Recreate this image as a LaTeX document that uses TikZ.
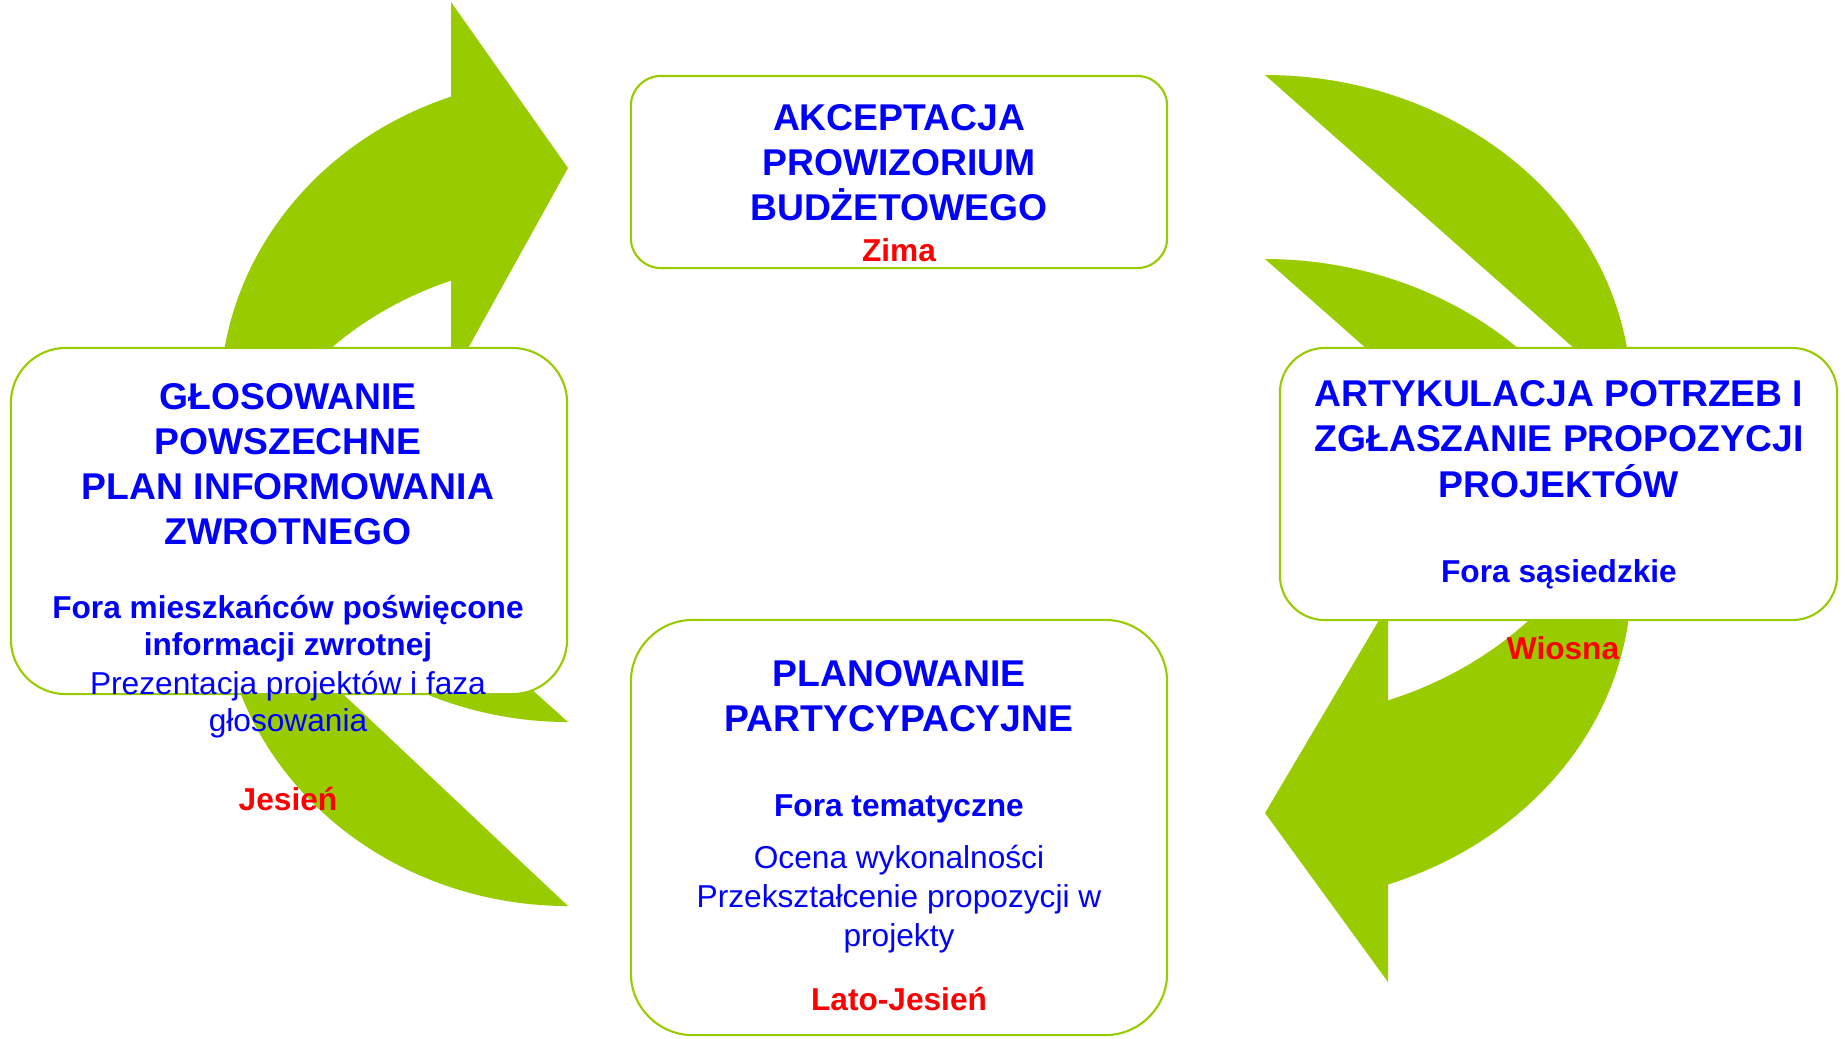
\documentclass[tikz,border=0pt]{standalone}
\usepackage{fontspec}
\setmainfont{Liberation Sans}
\usepackage{xcolor}
\definecolor{leaf}{HTML}{99CC00}
\definecolor{ink}{HTML}{0000FF}
\definecolor{season}{HTML}{FF0000}
\usepackage{tikz}
\usetikzlibrary{shapes, positioning}

\begin{document}
\begin{tikzpicture}[x=0.01cm, y=0.01cm]
        % Define block styles
        \tikzstyle{stage} = [rectangle, draw=leaf, line width=0.6pt, fill=white, inner sep=0pt]
        \tikzstyle{stageTitle} = [text=ink, font=\bfseries\fontsize{10.6}{12.8}\selectfont, anchor=base, inner sep=0pt]
        \tikzstyle{stageForum} = [text=ink, font=\bfseries\fontsize{9}{10.7}\selectfont, anchor=base, inner sep=0pt]
        \tikzstyle{stageText} = [text=ink, font=\fontsize{9}{10.7}\selectfont, anchor=base, inner sep=0pt]
        \tikzstyle{stageSeason} = [text=season, font=\bfseries\fontsize{9}{10.7}\selectfont, anchor=base, inner sep=0pt]
        \tikzstyle{loopArrow} = [fill=leaf]

        \useasboundingbox (0,0) rectangle (1845,-1038);

        % Arrows (right one, head pointing left)
        \fill[loopArrow] (1265,-75) arc[start angle=90, end angle=3, x radius=3.66cm, y radius=3.22cm] -- (1610,-380) -- cycle;
        \fill[loopArrow] (1265,-259) arc[start angle=90, end angle=38.6, x radius=3.66cm, y radius=3.22cm] -- (1402,-380) -- cycle;
        \fill[loopArrow] (1631,-590) arc[start angle=-1.6, end angle=-70.36, x radius=3.66cm, y radius=3.22cm]
            -- (1388,-982) -- (1265,-813) -- (1388,-605) -- (1388,-700.3)
            arc[start angle=-70.36, end angle=-36.83, x radius=3.66cm, y radius=3.22cm] -- cycle;

        % Arrows (left one, head pointing right)
        \fill[loopArrow] (451,-2) -- (568,-168) -- (451,-379) -- (451,-280.7)
            arc[start angle=109.65, end angle=140.7, x radius=3.48cm, y radius=3.22cm] -- (220.7,-380)
            arc[start angle=176.44, end angle=109.65, x radius=3.48cm, y radius=3.22cm] -- cycle;
        \fill[loopArrow] (568,-906) arc[start angle=270, end angle=195.49, x radius=3.48cm, y radius=3.22cm] -- (317.5,-670) -- cycle;
        \fill[loopArrow] (568,-722) arc[start angle=270, end angle=236.98, x radius=3.48cm, y radius=3.22cm] -- (510,-670) -- cycle;

        % Nodes
        \node [stage, minimum width=5.36cm, minimum height=1.92cm, rounded corners=0.3cm] (akcBox) at (899,-172) {};
        \node [stage, minimum width=5.56cm, minimum height=3.46cm, rounded corners=0.55cm] (glosBox) at (289,-521) {};
        \node [stage, minimum width=5.57cm, minimum height=2.72cm, rounded corners=0.45cm] (artBox) at (1558.5,-484) {};
        \node [stage, minimum width=5.36cm, minimum height=4.15cm, rounded corners=0.62cm] (planBox) at (899,-827.5) {};

        % Texts
        \node [stageTitle] (akcTitle) at (899,-130.5) {
            \begin{tabular}[t]{@{}c@{}}
                AKCEPTACJA \\
                PROWIZORIUM \\
                BUDŻETOWEGO
            \end{tabular}
        };
        \node [stageSeason] (akcSeason) at (899,-261) {Zima};

        \node [stageTitle] (glosTitle) at (288,-409.5) {
            \begin{tabular}[t]{@{}c@{}}
                GŁOSOWANIE \\
                POWSZECHNE \\
                PLAN INFORMOWANIA \\
                ZWROTNEGO
            \end{tabular}
        };
        \node [stageForum] (glosForum) at (288,-618) {
            \begin{tabular}[t]{@{}c@{}}
                Fora mieszkańców poświęcone \\
                informacji zwrotnej
            \end{tabular}
        };
        \node [stageText] (glosText) at (288,-694) {
            \begin{tabular}[t]{@{}c@{}}
                Prezentacja projektów i faza \\
                głosowania
            \end{tabular}
        };
        \node [stageSeason] (glosSeason) at (288,-810) {Jesień};

        \node [stageTitle] (artTitle) at (1559,-406) {
            \begin{tabular}[t]{@{}c@{}}
                ARTYKULACJA POTRZEB I \\
                ZGŁASZANIE PROPOZYCJI \\
                PROJEKTÓW
            \end{tabular}
        };
        \node [stageForum] (artForum) at (1559,-582) {Fora sąsiedzkie};
        \node [stageSeason] (artSeason) at (1563,-659) {Wiosna};

        \node [stageTitle] (planTitle) at (899,-686) {
            \begin{tabular}[t]{@{}c@{}}
                PLANOWANIE \\
                PARTYCYPACYJNE
            \end{tabular}
        };
        \node [stageForum] (planForum) at (899,-816) {Fora tematyczne};
        \node [stageText, font=\fontsize{9}{11.1}\selectfont] (planText) at (899,-868) {
            \begin{tabular}[t]{@{}c@{}}
                Ocena wykonalności \\
                Przekształcenie propozycji w \\
                projekty
            \end{tabular}
        };
        \node [stageSeason] (planSeason) at (899,-1010) {Lato-Jesień};

    \end{tikzpicture}
\end{document}
